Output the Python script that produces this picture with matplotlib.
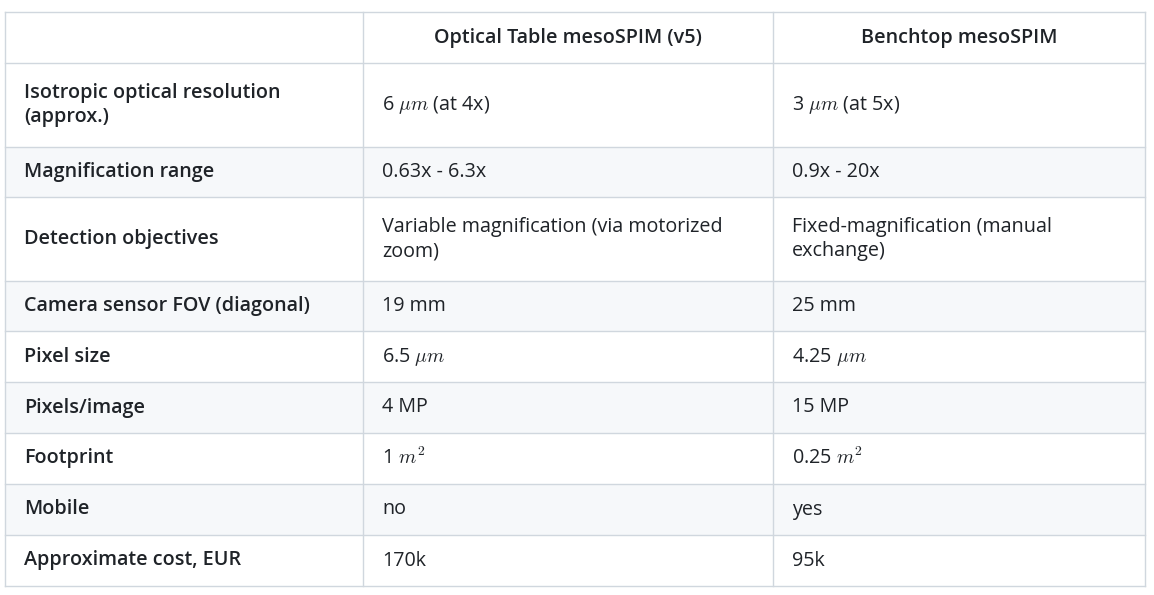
import matplotlib.pyplot as plt
from matplotlib.patches import Rectangle

plt.rcParams['font.family'] = ['Open Sans', 'DejaVu Sans']
plt.rcParams['mathtext.fontset'] = 'cm'

header = ["", "Optical Table mesoSPIM (v5)", "Benchtop mesoSPIM"]
features = ["Isotropic optical resolution\n(approx.)", "Magnification range", "Detection objectives",
            "Camera sensor FOV (diagonal)", "Pixel size", "Pixels/image", "Footprint",
            "Mobile", "Approximate cost, EUR"]
optical = [r"6 $\mu m$ (at 4x)", "0.63x - 6.3x", "Variable magnification (via motorized\nzoom)",
           "19 mm", r"6.5 $\mu m$", "4 MP", r"1 $m^2$", "no", "170k"]
benchtop = [r"3 $\mu m$ (at 5x)", "0.9x - 20x", "Fixed-magnification (manual\nexchange)",
            "25 mm", r"4.25 $\mu m$", "15 MP", r"0.25 $m^2$", "yes", "95k"]

col_x = [5, 363, 773, 1145]
row_y = [12, 63, 147, 197, 281, 331, 382, 433, 484, 535, 586]

fig = plt.figure(figsize=(11.54, 5.95), dpi=100)
ax = fig.add_axes([0, 0, 1, 1])
ax.set_xlim(0, 1154)
ax.set_ylim(595, 0)
ax.axis('off')

line = '#d0d7de'
rows = [header] + [[f, o, b] for f, o, b in zip(features, optical, benchtop)]
for r, cells in enumerate(rows):
    y0, y1 = row_y[r], row_y[r + 1]
    bg = '#f6f8fa' if r > 0 and r % 2 == 0 else 'white'
    ax.add_patch(Rectangle((col_x[0], y0), col_x[-1] - col_x[0], y1 - y0,
                           facecolor=bg, edgecolor='none'))
    for c, txt in enumerate(cells):
        bold = r == 0 or c == 0
        if r == 0:
            x, ha = (col_x[c] + col_x[c + 1]) / 2, 'center'
        else:
            x, ha = col_x[c] + 19, 'left'
        ax.text(x, (y0 + y1) / 2, txt, ha=ha, va='center', fontsize=14.2,
                color='#1f2328', fontweight='semibold' if bold else 'normal',
                linespacing=1.3)
for y in row_y:
    ax.plot([col_x[0], col_x[-1]], [y, y], color=line, lw=1)
for x in col_x:
    ax.plot([x, x], [row_y[0], row_y[-1]], color=line, lw=1)

fig.savefig('out.png', dpi=100)
